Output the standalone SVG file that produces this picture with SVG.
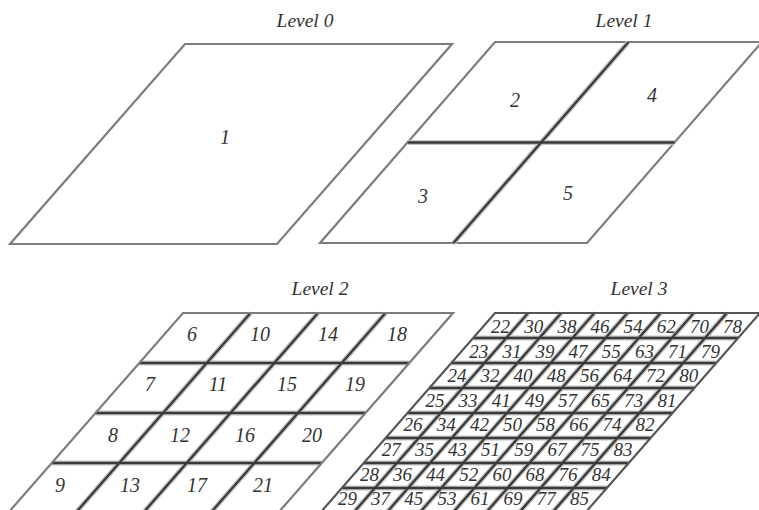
<svg xmlns="http://www.w3.org/2000/svg" width="759" height="510" viewBox="0 0 759 510">
<style>
.outer{fill:none;stroke:#7c7c7c;stroke-width:2.2;stroke-linejoin:miter}
.halo{fill:none;stroke:#c4c4c4;stroke-width:5}
.inner{fill:none;stroke:#3a3a3a;stroke-width:2.3}
text{font-family:"Liberation Serif","DejaVu Serif",serif;font-style:italic;fill:#333333;text-anchor:middle}
.lvl{font-size:19.5px}
.n{font-size:20px}
.s{font-size:19px}
</style>
<rect width="759" height="510" fill="#ffffff"/>

<g id="level0">
  <text class="lvl" x="305" y="27">Level 0</text>
  <polygon class="outer" points="185,44 452,44 277,244 10,244"/>
  <text class="n" x="225" y="144">1</text>
</g>

<g id="level1">
  <text class="lvl" x="624" y="27">Level 1</text>
  <polygon class="outer" points="495,42 762,42 587,243 320,243"/>
  <g class="grid">
    <line class="halo" x1="407.5" y1="142.5" x2="674.5" y2="142.5"/>
    <line class="halo" x1="628.5" y1="42" x2="453.5" y2="243"/>
    <line class="inner" x1="407.5" y1="142.5" x2="674.5" y2="142.5"/>
    <line class="inner" x1="628.5" y1="42" x2="453.5" y2="243"/>
  </g>
  <text class="n" x="515" y="107">2</text>
  <text class="n" x="652" y="102">4</text>
  <text class="n" x="423" y="203">3</text>
  <text class="n" x="568" y="200">5</text>
</g>

<g id="level2">
  <text class="lvl" x="320" y="295">Level 2</text>
  <g class="grid">
    <g class="halo">
      <line x1="139.25" y1="363" x2="409.25" y2="363"/>
      <line x1="95.5" y1="413" x2="365.5" y2="413"/>
      <line x1="51.75" y1="463" x2="321.75" y2="463"/>
      <line x1="250.5" y1="313" x2="75.5" y2="513"/>
      <line x1="318" y1="313" x2="143" y2="513"/>
      <line x1="385.5" y1="313" x2="210.5" y2="513"/>
    </g>
    <g class="inner">
      <line x1="139.25" y1="363" x2="409.25" y2="363"/>
      <line x1="95.5" y1="413" x2="365.5" y2="413"/>
      <line x1="51.75" y1="463" x2="321.75" y2="463"/>
      <line x1="250.5" y1="313" x2="75.5" y2="513"/>
      <line x1="318" y1="313" x2="143" y2="513"/>
      <line x1="385.5" y1="313" x2="210.5" y2="513"/>
    </g>
  </g>
  <polygon class="outer" points="183,313 453,313 278,513 8,513"/>
  <text class="n" x="192" y="341">6</text>
  <text class="n" x="260" y="341">10</text>
  <text class="n" x="328" y="341">14</text>
  <text class="n" x="397" y="341">18</text>
  <text class="n" x="150" y="391">7</text>
  <text class="n" x="218" y="391">11</text>
  <text class="n" x="287" y="391">15</text>
  <text class="n" x="355" y="391">19</text>
  <text class="n" x="113" y="442">8</text>
  <text class="n" x="180" y="442">12</text>
  <text class="n" x="245" y="442">16</text>
  <text class="n" x="312" y="442">20</text>
  <text class="n" x="60" y="492">9</text>
  <text class="n" x="130" y="492">13</text>
  <text class="n" x="197" y="492">17</text>
  <text class="n" x="263" y="492">21</text>
</g>

<g id="level3">
  <text class="lvl" x="639" y="295">Level 3</text>
  <g class="grid">
    <g class="halo">
      <line x1="473.125" y1="338" x2="738.125" y2="338"/>
      <line x1="451.25" y1="363" x2="716.25" y2="363"/>
      <line x1="429.375" y1="388" x2="694.375" y2="388"/>
      <line x1="407.5" y1="413" x2="672.5" y2="413"/>
      <line x1="385.625" y1="438" x2="650.625" y2="438"/>
      <line x1="363.75" y1="463" x2="628.75" y2="463"/>
      <line x1="341.875" y1="488" x2="606.875" y2="488"/>
      <line x1="528.125" y1="313" x2="353.125" y2="513"/>
      <line x1="561.25" y1="313" x2="386.25" y2="513"/>
      <line x1="594.375" y1="313" x2="419.375" y2="513"/>
      <line x1="627.5" y1="313" x2="452.5" y2="513"/>
      <line x1="660.625" y1="313" x2="485.625" y2="513"/>
      <line x1="693.75" y1="313" x2="518.75" y2="513"/>
      <line x1="726.875" y1="313" x2="551.875" y2="513"/>
    </g>
    <g class="inner">
      <line x1="473.125" y1="338" x2="738.125" y2="338"/>
      <line x1="451.25" y1="363" x2="716.25" y2="363"/>
      <line x1="429.375" y1="388" x2="694.375" y2="388"/>
      <line x1="407.5" y1="413" x2="672.5" y2="413"/>
      <line x1="385.625" y1="438" x2="650.625" y2="438"/>
      <line x1="363.75" y1="463" x2="628.75" y2="463"/>
      <line x1="341.875" y1="488" x2="606.875" y2="488"/>
      <line x1="528.125" y1="313" x2="353.125" y2="513"/>
      <line x1="561.25" y1="313" x2="386.25" y2="513"/>
      <line x1="594.375" y1="313" x2="419.375" y2="513"/>
      <line x1="627.5" y1="313" x2="452.5" y2="513"/>
      <line x1="660.625" y1="313" x2="485.625" y2="513"/>
      <line x1="693.75" y1="313" x2="518.75" y2="513"/>
      <line x1="726.875" y1="313" x2="551.875" y2="513"/>
    </g>
  </g>
  <polygon class="outer" style="stroke:#555" points="495,313 760,313 585,513 320,513"/>
  <g class="labels">
    <text class="s" x="500.6" y="333">22</text><text class="s" x="533.7" y="333">30</text><text class="s" x="566.9" y="333">38</text><text class="s" x="600" y="333">46</text><text class="s" x="633.1" y="333">54</text><text class="s" x="666.2" y="333">62</text><text class="s" x="699.4" y="333">70</text><text class="s" x="732.5" y="333">78</text>
    <text class="s" x="478.7" y="357.6">23</text><text class="s" x="511.9" y="357.6">31</text><text class="s" x="545" y="357.6">39</text><text class="s" x="578.1" y="357.6">47</text><text class="s" x="611.2" y="357.6">55</text><text class="s" x="644.4" y="357.6">63</text><text class="s" x="677.5" y="357.6">71</text><text class="s" x="710.6" y="357.6">79</text>
    <text class="s" x="456.9" y="382.2">24</text><text class="s" x="490" y="382.2">32</text><text class="s" x="523.1" y="382.2">40</text><text class="s" x="556.2" y="382.2">48</text><text class="s" x="589.4" y="382.2">56</text><text class="s" x="622.5" y="382.2">64</text><text class="s" x="655.6" y="382.2">72</text><text class="s" x="688.7" y="382.2">80</text>
    <text class="s" x="435" y="406.8">25</text><text class="s" x="468.1" y="406.8">33</text><text class="s" x="501.2" y="406.8">41</text><text class="s" x="534.4" y="406.8">49</text><text class="s" x="567.5" y="406.8">57</text><text class="s" x="600.6" y="406.8">65</text><text class="s" x="633.7" y="406.8">73</text><text class="s" x="666.9" y="406.8">81</text>
    <text class="s" x="413.1" y="431.4">26</text><text class="s" x="446.2" y="431.4">34</text><text class="s" x="479.4" y="431.4">42</text><text class="s" x="512.5" y="431.4">50</text><text class="s" x="545.6" y="431.4">58</text><text class="s" x="578.7" y="431.4">66</text><text class="s" x="611.9" y="431.4">74</text><text class="s" x="645" y="431.4">82</text>
    <text class="s" x="391.2" y="456">27</text><text class="s" x="424.4" y="456">35</text><text class="s" x="457.5" y="456">43</text><text class="s" x="490.6" y="456">51</text><text class="s" x="523.7" y="456">59</text><text class="s" x="556.9" y="456">67</text><text class="s" x="590" y="456">75</text><text class="s" x="623.1" y="456">83</text>
    <text class="s" x="369.4" y="480.6">28</text><text class="s" x="402.5" y="480.6">36</text><text class="s" x="435.6" y="480.6">44</text><text class="s" x="468.7" y="480.6">52</text><text class="s" x="501.9" y="480.6">60</text><text class="s" x="535" y="480.6">68</text><text class="s" x="568.1" y="480.6">76</text><text class="s" x="601.2" y="480.6">84</text>
    <text class="s" x="347.5" y="505.2">29</text><text class="s" x="380.6" y="505.2">37</text><text class="s" x="413.7" y="505.2">45</text><text class="s" x="446.9" y="505.2">53</text><text class="s" x="480" y="505.2">61</text><text class="s" x="513.1" y="505.2">69</text><text class="s" x="546.2" y="505.2">77</text><text class="s" x="579.4" y="505.2">85</text>
  </g>
</g>
</svg>
